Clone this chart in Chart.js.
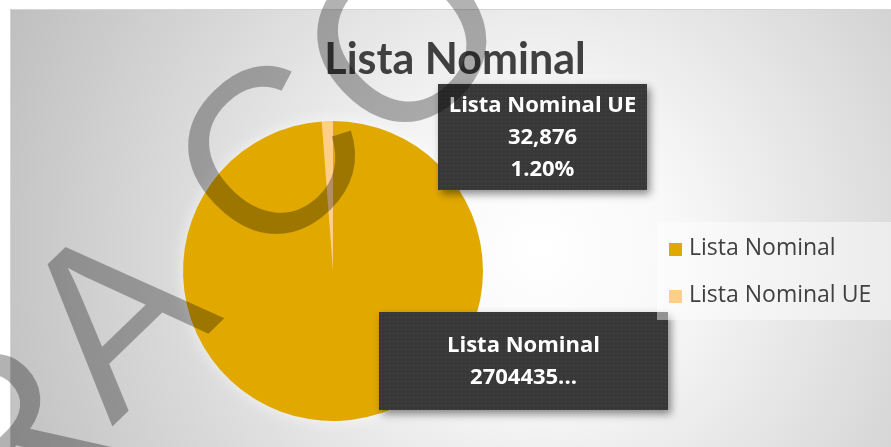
<!DOCTYPE html>
<html>
<head>
<meta charset="utf-8">
<script src="https://cdn.jsdelivr.net/npm/chart.js@4.4.0/dist/chart.umd.min.js"></script>
<style>
  html, body { margin: 0; padding: 0; background: #fff; overflow: hidden; width: 891px; height: 447px; }
  canvas { display: block; }
</style>
</head>
<body>
<canvas id="chartLista" width="911" height="447"></canvas>
<script>
// Datos del gráfico
const categorias = ['Lista Nominal', 'Lista Nominal UE'];
const valores = [2704435, 32876];
const colores = ['#E1A900', '#FFCF87'];
const titulo = 'Lista Nominal';
const marcaAgua = ['R', 'A', 'C', 'O'];

// patrón de puntos para las etiquetas oscuras
function crearPatron(ctx) {
  const c = document.createElement('canvas');
  c.width = 4; c.height = 4;
  const p = c.getContext('2d');
  p.fillStyle = '#383838';
  p.fillRect(0, 0, 4, 4);
  p.fillStyle = '#4c4c4c';
  p.fillRect(1, 1, 1, 1);
  return ctx.createPattern(c, 'repeat');
}

const fondoPlugin = {
  id: 'fondo',
  beforeDraw(chart) {
    const { ctx, width, height } = chart;
    ctx.save();
    ctx.fillStyle = '#fff';
    ctx.fillRect(0, 0, width, height);
    const g = ctx.createRadialGradient(540, 250, 0, 540, 250, 620);
    g.addColorStop(0, '#ffffff');
    g.addColorStop(0.22, '#f8f8f8');
    g.addColorStop(1, '#bababa');
    ctx.fillStyle = g;
    ctx.fillRect(10, 9, width - 10, height - 9);
    ctx.strokeStyle = '#d4d4d4';
    ctx.lineWidth = 1;
    ctx.beginPath();
    ctx.moveTo(10.5, height); ctx.lineTo(10.5, 9.5); ctx.lineTo(width, 9.5);
    ctx.stroke();

    // título
    ctx.fillStyle = '#404040';
    ctx.font = 'bold 43px Lato';
    ctx.textAlign = 'center';
    ctx.textBaseline = 'alphabetic';
    ctx.fillText(titulo, 455, 74);
    ctx.restore();
  },
  beforeDatasetsDraw(chart) {
    // halo claro alrededor del pastel
    const arc = chart.getDatasetMeta(0).data[0];
    if (!arc) return;
    const { ctx } = chart;
    ctx.save();
    ctx.shadowColor = 'rgba(255,255,255,0.75)';
    ctx.shadowBlur = 16;
    ctx.fillStyle = colores[0];
    ctx.beginPath();
    ctx.arc(arc.x, arc.y, arc.outerRadius - 1, 0, Math.PI * 2);
    ctx.fill();
    ctx.restore();
  }
};

function dibujarEtiqueta(ctx, x, y, w, h, lineas, patron) {
  ctx.save();
  ctx.shadowColor = 'rgba(0,0,0,0.45)';
  ctx.shadowBlur = 8;
  ctx.shadowOffsetX = 3;
  ctx.shadowOffsetY = 4;
  ctx.fillStyle = '#3a3a3a';
  ctx.fillRect(x, y, w, h);
  ctx.restore();
  ctx.save();
  ctx.fillStyle = patron;
  ctx.fillRect(x, y, w, h);
  ctx.fillStyle = '#ffffff';
  ctx.font = 'bold 22px "Open Sans"';
  ctx.textAlign = 'center';
  ctx.textBaseline = 'middle';
  const gap = 32;
  const y0 = y + h / 2 - (lineas.length - 1) * gap / 2 + 1;
  lineas.forEach((t, i) => ctx.fillText(t, x + w / 2, y0 + i * gap));
  ctx.restore();
}

const etiquetasPlugin = {
  id: 'etiquetas',
  afterDatasetsDraw(chart) {
    const { ctx } = chart;
    const arc = chart.getDatasetMeta(0).data[0];
    if (!arc) return;
    const cx = arc.x, cy = arc.y;
    const datos = chart.data.datasets[0].data;
    const total = datos.reduce((a, b) => a + b, 0);
    const patron = crearPatron(ctx);

    // etiqueta de Lista Nominal UE
    dibujarEtiqueta(ctx, cx + 105, cy - 187, 209, 106, [
      categorias[1],
      datos[1].toLocaleString('en-US'),
      (datos[1] / total * 100).toFixed(2) + '%'
    ], patron);

    // etiqueta de Lista Nominal (texto recortado como en el original)
    dibujarEtiqueta(ctx, cx + 46, cy + 41, 289, 98, [
      categorias[0],
      String(datos[0]) + '...'
    ], patron);

    // leyenda
    ctx.save();
    ctx.fillStyle = 'rgba(255,255,255,0.45)';
    ctx.fillRect(657, 222, 260, 98);
    ctx.font = '23px "Open Sans"';
    ctx.textBaseline = 'middle';
    categorias.forEach((c, i) => {
      const y = 243 + i * 47;
      ctx.fillStyle = colores[i];
      ctx.fillRect(669, y, 13, 13);
      ctx.fillStyle = '#404040';
      ctx.fillText(c, 689, y + 5);
    });
    ctx.restore();
  }
};

const marcaPlugin = {
  id: 'marca',
  afterDraw(chart) {
    const { ctx } = chart;
    const pos = [[0, 438, -44], [110, 312, -44], [266, 152, -44], [400, 35, -43]];
    ctx.save();
    ctx.fillStyle = 'rgba(0,0,0,0.3)';
    ctx.font = '235px "Liberation Sans"';
    ctx.textAlign = 'center';
    ctx.textBaseline = 'alphabetic';
    marcaAgua.forEach((l, i) => {
      ctx.save();
      ctx.translate(pos[i][0], pos[i][1]);
      ctx.rotate(pos[i][2] * Math.PI / 180);
      ctx.fillText(l, 0, 84);
      ctx.restore();
    });
    ctx.restore();
  }
};

const ctxLista = document.getElementById('chartLista');
new Chart(ctxLista.getContext('2d'), {
  type: 'pie',
  data: {
    labels: categorias,
    datasets: [{
      data: valores,
      backgroundColor: colores,
      borderWidth: 0,
      hoverOffset: 0,
      offset: 0
    }]
  },
  options: {
    responsive: false,
    animation: false,
    layout: { padding: { left: 0, right: 245, top: 121, bottom: 26 } },
    plugins: {
      legend: { display: false },
      tooltip: { enabled: false },
      title: { display: false }
    }
  },
  plugins: [fondoPlugin, etiquetasPlugin, marcaPlugin]
});
</script>
</body>
</html>
